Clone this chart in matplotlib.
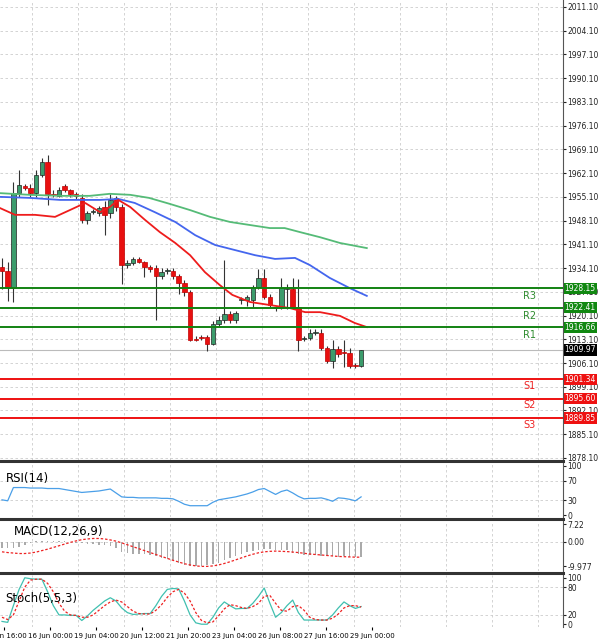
import matplotlib
matplotlib.use("Agg")
import matplotlib.pyplot as plt
import numpy as np

opens = [1934.4,1933.2,1928.2,1956.2,1958.3,1957.7,1956.2,1961.6,1965.4,1956.0,1955.4,1958.3,1957.1,1956.0,1954.8,1948.3,
         1950.6,1950.4,1952.1,1950.4,1954.8,1952.1,1935.0,1935.6,1936.8,1935.9,1934.4,1934.1,1931.8,1933.2,1933.2,1931.8,
         1929.7,1927.1,1913.2,1913.8,1913.8,1911.7,1917.6,1918.8,1920.6,1918.8,1924.7,1924.7,1924.7,1928.5,1931.2,1925.6,
         1922.3,1922.3,1927.9,1927.9,1922.6,1913.2,1913.5,1915.0,1915.0,1910.5,1906.7,1910.2,1909.1,1909.1,1905.3,1905.2]
closes = [1933.2,1928.2,1956.2,1958.6,1957.7,1956.2,1961.6,1965.4,1956.0,1955.7,1957.1,1957.1,1956.0,1955.4,1948.3,1950.4,
          1950.8,1951.8,1949.8,1954.2,1952.1,1935.0,1935.6,1936.8,1935.9,1934.4,1933.8,1931.8,1933.0,1933.3,1931.8,1929.7,
          1927.1,1912.9,1913.0,1913.6,1911.7,1917.6,1918.8,1920.6,1918.8,1920.9,1924.8,1925.6,1928.5,1931.2,1925.6,1923.2,
          1922.4,1928.2,1928.0,1922.3,1912.9,1913.3,1915.0,1915.1,1910.5,1906.7,1910.2,1908.8,1909.0,1905.2,1905.2,1909.97]
highs = [1937,1936,1959.5,1963,1959,1959,1963,1966.5,1967.5,1957,1958,1958.8,1957.5,1956.5,1956,1951,
         1951.5,1952.5,1954,1956,1955.5,1953,1936.5,1937.5,1937.3,1936.2,1935,1935,1934,1934,1934,1932.5,
         1930.5,1927.5,1914,1914.5,1914.5,1918.5,1920,1936.5,1921.5,1921.5,1925.5,1926.2,1929,1933.8,1933.8,1926.5,
         1923,1931.2,1929.5,1931.2,1931,1914,1916,1916,1916,1911,1913,1911,1913,1910.5,1906,1910]
lows = [1928,1924.5,1924,1955,1957,1955,1955,1961,1952.7,1955,1955,1956.5,1955,1954.5,1947.5,1947,
        1950,1949.5,1944,1949,1951,1929.4,1934,1935,1935.5,1931.5,1933,1918.8,1931,1932.5,1931,1926.5,
        1925.8,1912.5,1912.5,1913,1909.7,1911.5,1917,1918,1918,1918,1923.5,1923,1922.5,1928,1925,1922.5,
        1921.5,1922,1922,1922,1909.5,1912.5,1913,1914.5,1910,1906,1904.5,1908,1905,1904.5,1904.5,1904.9]

ma_fast_idx = [-0.35,2.3,5.8,9.3,11.9,14.6,17.2,18.9,20.4,22.5,25.1,27.7,30.4,33,35.6,38.2,40.4,43.5,47,50.5,53.2,55.8,59.3,61.9,64]
ma_fast = [1951.8,1949.8,1949.8,1949.2,1951.2,1953.3,1950.6,1952.1,1954.2,1952.1,1948.3,1944.7,1941.5,1937.9,1932.9,1929.1,
           1926.2,1924.1,1923.2,1922.3,1921.1,1921.1,1920.0,1917.9,1916.7]
ma_mid_idx = [-0.35,4.9,10.2,13.7,17.2,20.4,23.3,26.8,30.4,33.9,37.4,40.9,44.4,47.9,51.4,54,57.5,61,64]
ma_mid = [1955.1,1954.8,1954.2,1954.2,1954.2,1954.5,1953.3,1950.6,1947.7,1943.8,1940.9,1939.4,1937.9,1936.8,1937.1,1935.0,
          1931.2,1928.2,1925.9]
ma_slow_idx = [-0.35,4.9,10.2,15.4,18.9,22.5,25.8,29.5,33,36.5,40,43.5,47,49.6,52.3,55.8,59.3,64]
ma_slow = [1956.2,1955.7,1955.4,1955.4,1956.0,1955.7,1954.8,1953.0,1951.2,1949.2,1947.7,1946.8,1945.9,1945.9,1944.7,1943.2,
           1941.5,1940.0]

resist = [1928.15, 1922.41, 1916.66]
resist_names = ["R3", "R2", "R1"]
support = [1901.34, 1895.60, 1889.85]
support_names = ["S1", "S2", "S3"]
last_price = 1909.97
price_ticks = [2011.10 - 7 * k for k in range(20)]

rsi = [31,29,56,56,56,55,55,55,54,54,54,52,50,48,46,47,48,49,51,53,45,37,36,36,35,35,35,35,34,34,33,28,
       22,19,19,19,19,26,31,33,35,37,40,43,47,52,54,48,42,48,51,45,38,33,34,34,35,32,28,35,34,32,29,37]
macd_hist = [-2.5,-2.6,-2.4,-2.0,-1.2,-0.5,0.2,0.4,0.5,0.5,0.3,0.2,0.1,-0.3,-0.6,-0.8,-1.0,-1.2,-1.2,-1.5,-2.5,-4.0,-4.5,
             -4.8,-5.0,-5.2,-5.5,-6.0,-6.5,-7.0,-7.5,-8.5,-9.5,-10,-10,-9.8,-9.5,-9.0,-8.5,-7.5,-6.5,-5.8,-5.0,-4.3,-3.8,
             -3.2,-3.0,-3.0,-3.2,-3.3,-3.5,-4.5,-5.0,-5.5,-5.6,-5.6,-5.7,-5.8,-6.0,-6.2,-6.0,-6.2,-6.3,-6.3]
macd_signal = [-4.1,-4.4,-4.6,-4.8,-4.8,-4.6,-4.2,-3.6,-3.0,-2.3,-1.6,-0.9,-0.2,0.4,0.9,1.2,1.4,1.4,1.2,0.8,0.3,-0.4,-1.2,
               -2.0,-2.8,-3.6,-4.4,-5.2,-6.0,-6.8,-7.6,-8.3,-9.0,-9.5,-9.9,-10.1,-10.1,-9.9,-9.5,-8.9,-8.2,-7.4,-6.6,-5.8,
               -5.1,-4.5,-4.1,-3.9,-3.8,-3.9,-4.0,-4.2,-4.4,-4.7,-5.0,-5.2,-5.4,-5.6,-5.8,-6.0,-6.1,-6.2,-6.3,-6.3]
stoch_k = [6,4,40,75,100,98,97,97,70,40,20,20,19,19,8,18,30,40,50,57,50,35,25,21,22,23,23,40,60,75,77,76,
           50,20,3,0,0,15,35,48,40,33,34,34,45,60,78,45,15,25,40,52,25,9,9,9,9,9,20,35,48,40,34,38]
stoch_d = [15,10,20,50,80,95,97,97,88,70,45,28,20,19,15,15,20,30,40,48,52,48,38,28,23,22,22,30,42,58,70,75,
           67,50,25,8,3,5,18,33,42,40,36,34,38,45,60,62,45,30,28,38,40,30,15,10,9,9,13,22,35,40,40,37]

time_labels = ["15 Jun 16:00","16 Jun 00:00","19 Jun 04:00","20 Jun 12:00","21 Jun 20:00",
               "23 Jun 04:00","26 Jun 08:00","27 Jun 16:00","29 Jun 00:00"]

W, H = 600, 643
fig = plt.figure(figsize=(6, 6.43), dpi=100)
fig.patch.set_facecolor("white")

def px_ax(l, t, r, b):
    return fig.add_axes([l / W, 1 - b / H, (r - l) / W, (b - t) / H])

PX = 5.7
X0 = -0.35
XMAX = X0 + 563 / PX
label_idx = [(c - 2) / PX for c in [4, 50, 96, 142, 188, 234, 280, 326, 372]]
grid_idx = [(c - 2) / PX for c in range(-14, 563, 46)]
n = len(opens)
idx = np.arange(n)

def style(ax, ylo, yhi):
    ax.set_xlim(X0, XMAX)
    ax.set_ylim(ylo, yhi)
    ax.set_xticks([])
    ax.yaxis.tick_right()
    ax.tick_params(axis="y", labelsize=5.5, length=2, pad=1, colors="#222222")
    for s in ["left", "top", "bottom"]:
        ax.spines[s].set_visible(False)
    ax.spines["right"].set_color("#555555")
    for g in grid_idx:
        ax.axvline(g, color="#cccccc", lw=0.6, ls=(0, (3, 3)), zorder=0)

# main
ax = px_ax(0, 0, 563, 460)
ylo, yhi = 1877.5, 2013.16
style(ax, ylo, yhi)
ax.set_yticks(price_ticks)
ax.set_yticklabels([f"{p:.2f}" for p in price_ticks])
for p in price_ticks:
    ax.axhline(p, color="#cccccc", lw=0.6, ls=(0, (3, 3)), zorder=0)
for i in range(n):
    o, c, h, l = opens[i], closes[i], highs[i], lows[i]
    up = c >= o
    ax.vlines(i, l, h, color="#333333", lw=0.8, zorder=2)
    col = "#3c9c6c" if up else "#e81010"
    ax.bar(i, max(abs(c - o), 0.3), bottom=min(o, c), width=0.8, color=col,
           edgecolor="#222222" if up else "#c00000", lw=0.5, zorder=3)
ax.plot(ma_slow_idx, ma_slow, color="#55bb77", lw=1.3, zorder=4)
ax.plot(ma_mid_idx, ma_mid, color="#4466ee", lw=1.3, zorder=4)
ax.plot(ma_fast_idx, ma_fast, color="#ee1c1c", lw=1.3, zorder=4)
ax.axhline(last_price, color="#bbbbbb", lw=0.8, zorder=1)
lx = (530 - 2) / PX
for lv, nm in zip(resist, resist_names):
    ax.axhline(lv, color="#128212", lw=1.4, zorder=5)
    ax.text(lx, lv - 2.4, nm, color="#2e8b2e", fontsize=7, ha="center", va="center")
for lv, nm in zip(support, support_names):
    ax.axhline(lv, color="#ee1111", lw=1.4, zorder=5)
    ax.text(lx, lv - 2.0, nm, color="#ee2222", fontsize=7, ha="center", va="center")
def tag(v, fc):
    ax.text(1.003, v, f"{v:.2f}", transform=ax.get_yaxis_transform(), fontsize=5.5, color="white",
            va="center", ha="left", bbox=dict(boxstyle="square,pad=0.15", fc=fc, ec="none"), zorder=10)
for lv in resist:
    tag(lv, "#118811")
for lv in support:
    tag(lv, "#ee1111")
tag(last_price, "#000000")

# RSI
ar = px_ax(0, 463, 563, 517)
style(ar, -4, 106)
ar.set_yticks([100, 70, 30, 0])
for v in [70, 30]:
    ar.axhline(v, color="#cccccc", lw=0.6, ls=(0, (3, 3)), zorder=0)
ar.plot(idx, rsi, color="#4a9fe8", lw=0.9)
ar.text(0.01, 0.72, "RSI(14)", transform=ar.transAxes, fontsize=8.5, va="center")

# MACD
am = px_ax(0, 521, 563, 571)
style(am, -12.0, 8.6)
am.set_yticks([7.22, 0.0, -9.977])
am.set_yticklabels(["7.22", "0.00", "-9.977"])
am.axhline(0, color="#cccccc", lw=0.6, ls=(0, (3, 3)), zorder=0)
am.bar(idx, macd_hist, width=0.25, color="#aaaaaa")
am.plot(idx, macd_signal, color="#ee2222", lw=0.9, ls=(0, (2, 1.5)))
am.text(0.025, 0.78, "MACD(12,26,9)", transform=am.transAxes, fontsize=8.5, va="center")

# Stoch
ast = px_ax(0, 575, 563, 627)
style(ast, -6, 106)
ast.set_yticks([100, 80, 20, 0])
for v in [80, 20]:
    ast.axhline(v, color="#cccccc", lw=0.6, ls=(0, (3, 3)), zorder=0)
ast.plot(idx, stoch_k, color="#40c0b0", lw=0.9)
ast.plot(idx, stoch_d, color="#ee2222", lw=0.9, ls=(0, (2, 1.5)))
ast.text(0.01, 0.55, "Stoch(5,5,3)", transform=ast.transAxes, fontsize=8.5, va="center")
ast.set_xticks(label_idx)
ast.set_xticklabels(time_labels, fontsize=5)
ast.tick_params(axis="x", length=2, pad=2)

# panel separators
for y in [461, 519, 573]:
    fig.add_artist(plt.Line2D([0, 563 / W], [1 - y / H, 1 - y / H], color="#333333", lw=2.2))

fig.savefig("out.png", dpi=100)
